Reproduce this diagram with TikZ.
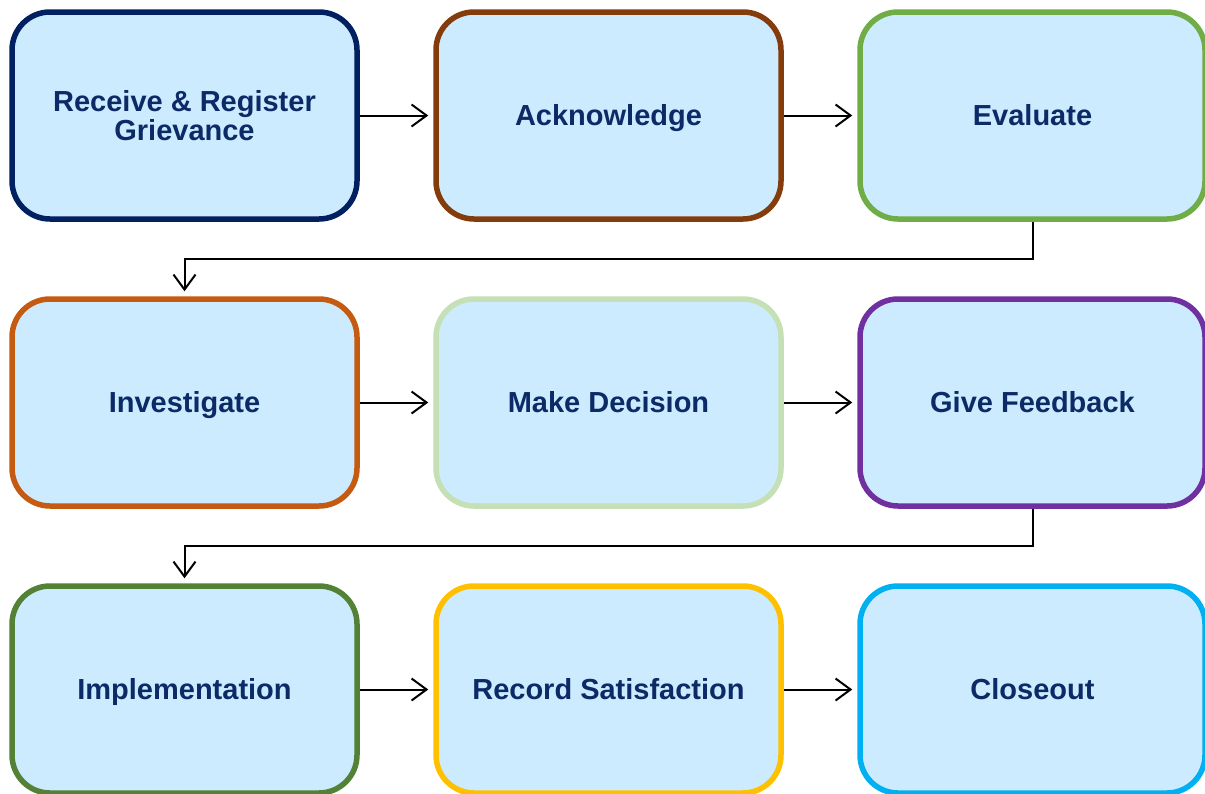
\documentclass[tikz,border=0pt]{standalone}
\usepackage{fontspec}
\setmainfont{Liberation Sans}
\usetikzlibrary{arrows.meta}
\definecolor{boxfill}{HTML}{CCEBFF}
\definecolor{txt}{HTML}{0C2A66}
\definecolor{c1}{HTML}{002060}
\definecolor{c2}{HTML}{843C0C}
\definecolor{c3}{HTML}{70AD47}
\definecolor{c4}{HTML}{C55A11}
\definecolor{c5}{HTML}{C5E0B4}
\definecolor{c6}{HTML}{7030A0}
\definecolor{c7}{HTML}{538135}
\definecolor{c8}{HTML}{FFC000}
\definecolor{c9}{HTML}{00B0F0}
\tikzset{
  basebox/.style={draw=#1, fill=boxfill, line width=5.5pt, rounded corners=38pt,
    minimum width=345pt, minimum height=207pt, inner sep=0pt,
    text=txt, font=\fontsize{29}{29}\selectfont\bfseries, align=center},
  stepbox/.style={basebox=#1, text height=20.8pt, text depth=0pt},
  conn/.style={line width=2pt, -{Straight Barb[length=15pt,width=22pt,line width=2pt]}, shorten >=5pt}
}
\begin{document}
\begin{tikzpicture}[x=1pt,y=-1pt]
\useasboundingbox (0,0) rectangle (1205,793);
\node[basebox=c1] (b1) at (184.5,115.5) {Receive \& Register\\Grievance};
\node[stepbox=c2] (b2) at (608.5,115.5) {Acknowledge};
\node[stepbox=c3] (b3) at (1032.5,115.5) {Evaluate};
\node[stepbox=c4] (b4) at (184.5,402.5) {Investigate};
\node[stepbox=c5] (b5) at (608.5,402.5) {Make Decision};
\node[stepbox=c6] (b6) at (1032.5,402.5) {Give Feedback};
\node[stepbox=c7] (b7) at (184.5,689.5) {Implementation};
\node[stepbox=c8] (b8) at (608.5,689.5) {Record Satisfaction};
\node[stepbox=c9] (b9) at (1032.5,689.5) {Closeout};
\draw[conn] (b1.east) -- (b2.west);
\draw[conn] (b2.east) -- (b3.west);
\draw[conn] (b4.east) -- (b5.west);
\draw[conn] (b5.east) -- (b6.west);
\draw[conn] (b7.east) -- (b8.west);
\draw[conn] (b8.east) -- (b9.west);
\draw[conn] (b3.south) -- ++(0,37.5) -| (b4.north);
\draw[conn] (b6.south) -- ++(0,37.5) -| (b7.north);
\end{tikzpicture}
\end{document}
